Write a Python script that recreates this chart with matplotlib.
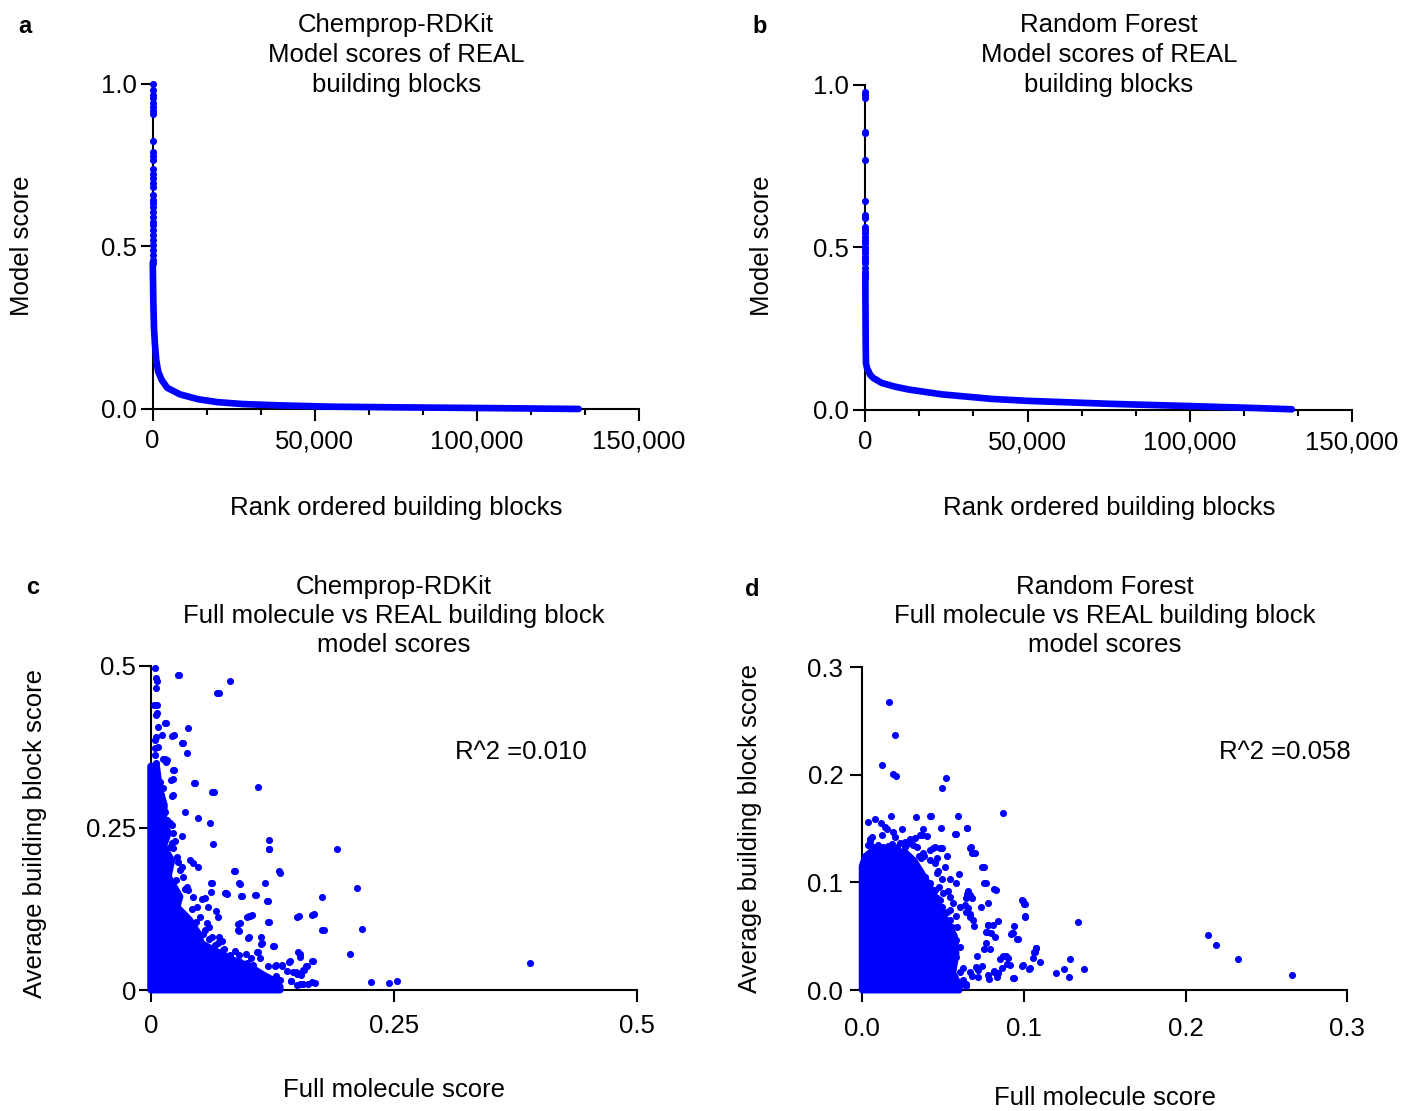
import matplotlib
matplotlib.use("Agg")
import matplotlib.pyplot as plt

plt.rcParams['font.family'] = ['Liberation Sans', 'DejaVu Sans']
BLUE = '#0000ff'
FS = 18.5

# ---- a: Chemprop-RDKit building block scores, rank ordered ----
a_top_rank = [0, 1, 2, 3, 4, 5, 6, 7, 8, 9, 10, 11, 12, 13, 14, 15, 16, 17,
              18, 19, 20, 21, 22, 23, 24, 25, 26, 27, 28, 29, 30, 31, 32]
a_top_score = [1.0, 0.982, 0.966, 0.956, 0.943, 0.930, 0.918, 0.907, 0.825,
               0.792, 0.778, 0.766, 0.737, 0.723, 0.710, 0.694, 0.684, 0.658,
               0.643, 0.633, 0.623, 0.607, 0.592, 0.576, 0.566, 0.551, 0.535,
               0.520, 0.505, 0.489, 0.474, 0.458, 0.448]
a_rank = [30, 100, 200, 400, 700, 1100, 1700, 2800, 4500, 8400, 14000, 20000,
          28000, 39300, 55000, 75000, 100000, 131500]
a_score = [0.45, 0.40, 0.33, 0.25, 0.20, 0.15, 0.115, 0.089, 0.065, 0.045,
           0.030, 0.021, 0.015, 0.011, 0.007, 0.005, 0.003, 0.0]

# ---- b: Random Forest building block scores, rank ordered ----
b_top_rank = [0, 1, 2, 3, 4, 5, 6, 7, 8, 9, 10, 11, 12, 13, 14, 15, 16, 17,
              18, 19, 20, 21, 22, 23, 24, 25]
b_top_score = [0.979, 0.969, 0.959, 0.856, 0.851, 0.769, 0.643, 0.600, 0.595,
               0.590, 0.564, 0.554, 0.544, 0.533, 0.523, 0.513, 0.503, 0.492,
               0.482, 0.472, 0.462, 0.451, 0.436, 0.426, 0.415, 0.405]
b_rank = [20, 60, 120, 200, 500, 800, 1500, 2500, 5100, 9000, 13300, 23600,
          39000, 50000, 75000, 100000, 120000, 131500]
b_score = [0.40, 0.30, 0.20, 0.144, 0.13, 0.123, 0.108, 0.098, 0.083, 0.072,
           0.063, 0.048, 0.034, 0.028, 0.019, 0.012, 0.006, 0.002]

rank_ticks = [0, 50000, 100000, 150000]
rank_ticklabels = ['0', '50,000', '100,000', '150,000']
rank_minor = [16667, 33333, 66667, 83333, 116667, 133333]
score_ticks = [0, 0.5, 1.0]
score_ticklabels = ['0.0', '0.5', '1.0']

# ---- c: Chemprop-RDKit full molecule vs building block score ----
c_dense_x = [0, 0.006, 0.009, 0.014, 0.013, 0.018, 0.013, 0.0216, 0.018,
             0.030, 0.027, 0.040, 0.049, 0.052, 0.068, 0.085, 0.102, 0.116,
             0.126, 0.133, 0.133, 0]
c_dense_y = [0.345, 0.345, 0.31, 0.285, 0.262, 0.242, 0.221, 0.200, 0.175,
             0.144, 0.128, 0.108, 0.087, 0.072, 0.059, 0.046, 0.036, 0.023,
             0.015, 0.005, 0.0, 0.0]
c_full = [0.0044, 0.0051, 0.0068, 0.0054, 0.0034, 0.0051, 0.0062, 0.0144,
          0.0383, 0.0113, 0.0216, 0.0054, 0.0047, 0.0321, 0.0373, 0.0044,
          0.0041, 0.0129, 0.0157, 0.0054, 0.0226, 0.0044, 0.0062, 0.0212,
          0.0441, 0.063, 0.0216, 0.0349, 0.0483, 0.0609, 0.0277, 0.0811,
          0.0684, 0.1105, 0.029, 0.0697, 0.0156, 0.024, 0.0335, 0.0142, 0.017,
          0.0239, 0.023, 0.0454, 0.0647, 0.023,
          0.0325, 0.0636, 0.1218, 0.1211, 0.1916, 0.0250, 0.0215, 0.0232,
          0.0403, 0.0438, 0.049, 0.0284, 0.0301, 0.0859, 0.132, 0.0619,
          0.0910, 0.1173, 0.0763, 0.0787, 0.0616, 0.0924, 0.1071, 0.1191,
          0.1759, 0.0557, 0.0523, 0.0592, 0.067, 0.0694, 0.0985, 0.1019,
          0.0893, 0.1201, 0.1502, 0.1663, 0.1759, 0.0893, 0.0602, 0.0996,
          0.1133, 0.1133, 0.126, 0.0701, 0.0729, 0.0746, 0.0865, 0.091,
          0.1088, 0.1122, 0.1516, 0.1533, 0.1653, 0.1201, 0.1276, 0.1345,
          0.142, 0.1464, 0.1499, 0.1595, 0.1567, 0.154, 0.1447, 0.1499,
          0.1567, 0.1663, 0.1293, 0.124, 0.1276, 0.1396, 0.0917, 0.0985,
          0.1054, 0.0712, 0.0763,
          0.226, 0.245, 0.253, 0.390, 0.2174, 0.205, 0.178, 0.168, 0.152,
          0.1215, 0.0922, 0.0867, 0.133, 0.212, 0.063, 0.0775, 0.0936, 0.108,
          0.1206, 0.101, 0.104, 0.122, 0.0913, 0.0904, 0.101, 0.1147, 0.127,
          0.153, 0.167, 0.161, 0.158, 0.149, 0.155, 0.1436, 0.129, 0.135,
          0.110, 0.0977, 0.103, 0.169, 0.162, 0.153, 0.1445, 0.133,
          0.0095, 0.0130, 0.0103, 0.0089, 0.0113, 0.0147, 0.0164, 0.0198,
          0.0130, 0.0080, 0.0070, 0.0060,
          0.0215, 0.0232, 0.0198, 0.0267, 0.0318, 0.0335, 0.0369, 0.0386,
          0.0438, 0.0472, 0.0506, 0.0575, 0.0558, 0.0626, 0.0694, 0.0260,
          0.0350, 0.0420, 0.0470, 0.0540, 0.0600, 0.0660, 0.0750, 0.0820]
c_block = [0.497, 0.4815, 0.4764, 0.465, 0.4394, 0.424, 0.4266, 0.4117, 0.404,
           0.393, 0.392, 0.3906, 0.3854, 0.3803, 0.366, 0.3726, 0.3623,
           0.3562, 0.352, 0.3495, 0.3387, 0.339, 0.3325, 0.3243, 0.3187,
           0.3058, 0.2996, 0.2744, 0.2652, 0.258, 0.4852, 0.4764, 0.4584,
           0.3135, 0.486, 0.4585, 0.412, 0.3926, 0.381, 0.356, 0.354, 0.339,
           0.325, 0.319, 0.306, 0.300,
           0.237, 0.225, 0.231, 0.2168, 0.2178, 0.229, 0.2272, 0.2184,
           0.2004, 0.1953, 0.1891, 0.1977, 0.1849, 0.184, 0.1839, 0.1649,
           0.1645, 0.1649, 0.1499, 0.1485, 0.151, 0.1444, 0.146, 0.1372,
           0.1439, 0.1423, 0.1398, 0.1274, 0.1223, 0.1121, 0.1123, 0.1138,
           0.1017, 0.1053, 0.1123, 0.1159, 0.0925, 0.0925, 0.0977, 0.0806,
           0.0812, 0.0709, 0.0679, 0.0812, 0.076, 0.0617, 0.0601, 0.054,
           0.0581, 0.0488, 0.0586, 0.0514, 0.0447, 0.0375, 0.0375, 0.0375,
           0.0432, 0.0272, 0.0247, 0.0365, 0.0314, 0.0237, 0.0134, 0.0082,
           0.0098, 0.0123, 0.0216, 0.0134, 0.0098, 0.0288, 0.0437, 0.0411,
           0.0386, 0.0565, 0.0488,
           0.0122, 0.011, 0.0138, 0.0415, 0.094, 0.0548, 0.092, 0.117, 0.114,
           0.217, 0.164, 0.184, 0.181, 0.158, 0.165, 0.150, 0.1447, 0.146,
           0.137, 0.114, 0.115, 0.105, 0.1027, 0.0915, 0.0814, 0.0723, 0.068,
           0.0548, 0.045, 0.037, 0.031, 0.028, 0.0255, 0.044, 0.039, 0.039,
           0.0585, 0.055, 0.0495, 0.0106, 0.0096, 0.0096, 0.0138, 0.0149,
           0.321, 0.3109, 0.3007, 0.2904, 0.2826, 0.2749, 0.2621, 0.2569,
           0.2544, 0.375, 0.405, 0.44,
           0.2544, 0.2416, 0.2210, 0.2056, 0.1901, 0.1747, 0.1593, 0.1542,
           0.1439, 0.1285, 0.1130, 0.1028, 0.0925, 0.0822, 0.0719, 0.1700,
           0.1560, 0.1250, 0.1050, 0.0870, 0.0780, 0.0700, 0.0640, 0.0540]
c_ticks = [0, 0.25, 0.5]
c_ticklabels = ['0', '0.25', '0.5']

# ---- d: Random Forest full molecule vs building block score ----
d_dense_x = [0, 0, 0.002, 0.006, 0.012, 0.020, 0.027, 0.032, 0.037, 0.044,
             0.050, 0.057, 0.058, 0.056, 0.060, 0.060]
d_dense_y = [0, 0.115, 0.124, 0.129, 0.131, 0.130, 0.127, 0.120, 0.108,
             0.090, 0.070, 0.050, 0.034, 0.016, 0.004, 0]
d_full = [0.0165, 0.0202, 0.012, 0.0192, 0.0206, 0.052, 0.0495, 0.0035,
          0.0081, 0.0114, 0.0180, 0.033, 0.0425, 0.059, 0.0651, 0.0487,
          0.0579, 0.0249, 0.0377, 0.0402, 0.0357, 0.0140, 0.0151, 0.012,
          0.0192, 0.0202, 0.005, 0.0295, 0.0264, 0.0439, 0.0491, 0.0666,
          0.067, 0.0697, 0.0751, 0.0766, 0.0825, 0.0734, 0.0779, 0.0996,
          0.1006, 0.1010, 0.0837, 0.0779, 0.0806, 0.0769, 0.0794, 0.0938,
          0.0924, 0.0934, 0.0965, 0.1078, 0.107, 0.0821, 0.0765, 0.0790,
          0.0868, 0.0903, 0.0913, 0.0996, 0.1037, 0.0862, 0.0814, 0.0779,
          0.0835, 0.0940, 0.1058, 0.110, 0.0625, 0.0666, 0.0645, 0.0718,
          0.0703, 0.0676, 0.0604, 0.0635, 0.0645, 0.0666, 0.0687, 0.0691,
          0.0656, 0.0666, 0.0641, 0.0600, 0.0542, 0.0532, 0.0583, 0.0522,
          0.0460, 0.0511, 0.0450, 0.0481, 0.0377, 0.0418, 0.0450, 0.0361,
          0.0353, 0.0470, 0.0460, 0.0491, 0.0477, 0.0501, 0.0481, 0.0542,
          0.0563, 0.0542, 0.0579, 0.0588, 0.0579, 0.0604, 0.0583, 0.0563,
          0.0604, 0.0625,
          0.0871, 0.0755, 0.0818, 0.0989, 0.1000, 0.1004, 0.1332, 0.0957,
          0.0921, 0.1072, 0.1061, 0.1288, 0.1197, 0.1246, 0.1277, 0.1374,
          0.1029, 0.0987, 0.0934, 0.2138, 0.2191, 0.2326, 0.2657, 0.0891,
          0.0854, 0.0893, 0.0818, 0.0785, 0.0840, 0.0738, 0.0714, 0.0752,
          0.0763, 0.0777, 0.0708, 0.0639, 0.0606, 0.0645, 0.0653, 0.0667,
          0.0647, 0.068, 0.0741, 0.068, 0.0648, 0.0576, 0.0421, 0.0369,
          0.0327, 0.0385, 0.0418, 0.028,
          0.0068, 0.0099, 0.0130, 0.0161, 0.0182, 0.0213, 0.0233, 0.0264,
          0.0295, 0.0316, 0.0336, 0.0037, 0.0048, 0.0058,
          0.0388, 0.0419, 0.0450, 0.0464, 0.0491, 0.0522, 0.0542, 0.0553,
          0.0563, 0.0542, 0.0532, 0.0553, 0.0522, 0.0542]
d_block = [0.2674, 0.2365, 0.2086, 0.2011, 0.1990, 0.1968, 0.1878, 0.1563,
           0.1587, 0.1548, 0.1619, 0.1603, 0.1615, 0.1615, 0.1501, 0.1501,
           0.1448, 0.1495, 0.1492, 0.143, 0.1439, 0.151, 0.1492, 0.1439,
           0.147, 0.1423, 0.1399, 0.1402, 0.1377, 0.1321, 0.1321, 0.1321,
           0.1325, 0.1269, 0.1139, 0.0990, 0.0929, 0.0774, 0.0805, 0.0826,
           0.0798, 0.0680, 0.064, 0.0603, 0.0603, 0.0541, 0.0526, 0.0594,
           0.0526, 0.0532, 0.0470, 0.0387, 0.0349, 0.0495, 0.0433, 0.0377,
           0.0315, 0.0294, 0.0232, 0.0229, 0.0201, 0.0201, 0.0170, 0.0139,
           0.0124, 0.0115, 0.0294, 0.0263, 0.0201, 0.0170, 0.0040, 0.0124,
           0.0217, 0.0130, 0.0774, 0.0790, 0.0728, 0.068, 0.065, 0.0594,
           0.0922, 0.0882, 0.0851, 0.1074, 0.1031, 0.0922, 0.0991, 0.1244,
           0.1222, 0.1145, 0.1325, 0.1316, 0.1269, 0.1207, 0.1176, 0.1222,
           0.1244, 0.1108, 0.1083, 0.1027, 0.0960, 0.0897, 0.0836, 0.0867,
           0.0805, 0.0743, 0.0687, 0.0588, 0.0464, 0.0402, 0.0303, 0.0248,
           0.0170, 0.0093,
           0.1645, 0.0993, 0.0935, 0.0833, 0.0800, 0.0685, 0.0634, 0.0471,
           0.0522, 0.0387, 0.0352, 0.0292, 0.0154, 0.0192, 0.0122, 0.0192,
           0.0195, 0.0224, 0.0111, 0.0515, 0.0420, 0.0288, 0.0138, 0.032,
           0.0288, 0.024, 0.0179, 0.0106, 0.016, 0.0224, 0.0186, 0.0378,
           0.0539, 0.0602, 0.0314, 0.0058, 0.0042, 0.0042, 0.0762, 0.0705,
           0.089, 0.0858, 0.114, 0.1274, 0.1505, 0.145, 0.1614, 0.144,
           0.1408, 0.1242, 0.13, 0.1355,
           0.1331, 0.1346, 0.1331, 0.1337, 0.1355, 0.1331, 0.1362, 0.1331,
           0.1393, 0.1346, 0.1331, 0.1346, 0.1377, 0.1424,
           0.1052, 0.0990, 0.0929, 0.0851, 0.0774, 0.0728, 0.0650, 0.0588,
           0.0495, 0.0402, 0.0310, 0.0217, 0.0124, 0.0062]
d_ticks = [0, 0.1, 0.2, 0.3]
d_ticklabels = ['0.0', '0.1', '0.2', '0.3']


def style_axes(ax, xpad, ypad):
    for side in ('top', 'right'):
        ax.spines[side].set_visible(False)
    for side in ('left', 'bottom'):
        ax.spines[side].set_linewidth(1.5)
    ax.tick_params(which='major', length=8.6, width=1.5, labelsize=FS,
                   direction='out')
    ax.tick_params(which='minor', length=4.3, width=1.5, direction='out')
    ax.tick_params(axis='x', which='major', pad=xpad)
    ax.tick_params(axis='y', which='major', pad=ypad)


fig = plt.figure(figsize=(14.02, 11.11), dpi=100)

ax_a = fig.add_axes([0.1089, 0.6319, 0.3466, 0.2925])
ax_b = fig.add_axes([0.6172, 0.6310, 0.3471, 0.2925])
ax_c = fig.add_axes([0.1075, 0.1089, 0.3469, 0.2919])
ax_d = fig.add_axes([0.6150, 0.1089, 0.3459, 0.2907])

# rank-ordered curves
for ax, tr, ts, r, s in [(ax_a, a_top_rank, a_top_score, a_rank, a_score),
                         (ax_b, b_top_rank, b_top_score, b_rank, b_score)]:
    ax.plot(r, s, color=BLUE, lw=4.8, solid_capstyle='round',
            solid_joinstyle='round', clip_on=False, zorder=3)
    ax.scatter(tr, ts, s=26, color=BLUE, lw=0, clip_on=False, zorder=3)
    ax.set_xlim(0, 150000)
    ax.set_ylim(0, 1.0)
    ax.set_xticks(rank_ticks)
    ax.set_xticklabels(rank_ticklabels)
    ax.set_xticks(rank_minor, minor=True)
    ax.set_yticks(score_ticks)
    ax.set_yticklabels(score_ticklabels)
    style_axes(ax, 6, 3)

# scatter panels: dense core as a filled region, the rest as single dots
ax_c.fill(c_dense_x, c_dense_y, color=BLUE, lw=5, joinstyle='round',
          clip_on=False, zorder=3)
ax_c.scatter(c_full, c_block, s=26, color=BLUE, lw=0, clip_on=False, zorder=3)
ax_c.set_xlim(0, 0.5)
ax_c.set_ylim(0, 0.5)
ax_c.set_xticks(c_ticks)
ax_c.set_xticklabels(c_ticklabels)
ax_c.set_yticks(c_ticks)
ax_c.set_yticklabels(c_ticklabels)
style_axes(ax_c, 9, 2)
ax_c.text(0.3124, 0.367, 'R^2 =0.010', fontsize=FS, va='center', ha='left')

ax_d.fill(d_dense_x, d_dense_y, color=BLUE, lw=5, joinstyle='round',
          clip_on=False, zorder=3)
ax_d.scatter(d_full, d_block, s=26, color=BLUE, lw=0, clip_on=False, zorder=3)
ax_d.set_xlim(0, 0.3)
ax_d.set_ylim(0, 0.3)
ax_d.set_xticks(d_ticks)
ax_d.set_xticklabels(d_ticklabels)
ax_d.set_yticks(d_ticks)
ax_d.set_yticklabels(d_ticklabels)
style_axes(ax_d, 11, 5)
ax_d.text(0.2206, 0.221, 'R^2 =0.058', fontsize=FS, va='center', ha='left')

# titles, axis labels, panel letters
fig.text(0.2825, 0.9505, 'Chemprop-RDKit\nModel scores of REAL\nbuilding blocks',
         ha='center', va='center', fontsize=FS, linespacing=1.33)
fig.text(0.791, 0.9505, 'Random Forest\nModel scores of REAL\nbuilding blocks',
         ha='center', va='center', fontsize=FS, linespacing=1.33)
fig.text(0.281, 0.4456,
         'Chemprop-RDKit\nFull molecule vs REAL building block\nmodel scores',
         ha='center', va='center', fontsize=FS, linespacing=1.26)
fig.text(0.788, 0.4454,
         'Random Forest\nFull molecule vs REAL building block\nmodel scores',
         ha='center', va='center', fontsize=FS, linespacing=1.26)

fig.text(0.2825, 0.5428, 'Rank ordered building blocks', ha='center',
         va='center', fontsize=FS)
fig.text(0.791, 0.5428, 'Rank ordered building blocks', ha='center',
         va='center', fontsize=FS)
fig.text(0.281, 0.0189, 'Full molecule score', ha='center', va='center',
         fontsize=FS)
fig.text(0.788, 0.0117, 'Full molecule score', ha='center', va='center',
         fontsize=FS)

fig.text(0.0157, 0.7786, 'Model score', rotation=90, ha='center',
         va='center', fontsize=FS)
fig.text(0.5435, 0.7786, 'Model score', rotation=90, ha='center',
         va='center', fontsize=FS)
fig.text(0.025, 0.2502, 'Average building block score', rotation=90,
         ha='center', va='center', fontsize=FS)
fig.text(0.535, 0.2547, 'Average building block score', rotation=90,
         ha='center', va='center', fontsize=FS)

for letter, x, y in [('a', 0.0178, 0.9757), ('b', 0.542, 0.9757),
                     ('c', 0.0235, 0.4716), ('d', 0.5364, 0.4698)]:
    fig.text(x, y, letter, ha='center', va='center', fontsize=17,
             fontweight='bold')

fig.savefig('out.png', dpi=100)
